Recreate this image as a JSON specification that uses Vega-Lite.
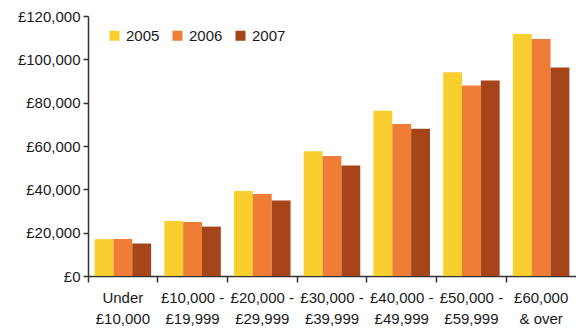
{
  "$schema": "https://vega.github.io/schema/vega-lite/v6.json",
  "width": 488,
  "height": 260,
  "autosize": {"type": "none"},
  "padding": {"left": 88, "top": 16, "right": 0, "bottom": 52},
  "background": "white",
  "config": {
    "view": {"stroke": null},
    "font": "Liberation Sans"
  },
  "data": {
    "values": [
      {"band": "Under £10,000", "year": "2005", "value": 17000},
      {"band": "Under £10,000", "year": "2006", "value": 17100},
      {"band": "Under £10,000", "year": "2007", "value": 15000},
      {"band": "£10,000 - £19,999", "year": "2005", "value": 25400},
      {"band": "£10,000 - £19,999", "year": "2006", "value": 24900},
      {"band": "£10,000 - £19,999", "year": "2007", "value": 22800},
      {"band": "£20,000 - £29,999", "year": "2005", "value": 39200},
      {"band": "£20,000 - £29,999", "year": "2006", "value": 37800},
      {"band": "£20,000 - £29,999", "year": "2007", "value": 34900},
      {"band": "£30,000 - £39,999", "year": "2005", "value": 57600},
      {"band": "£30,000 - £39,999", "year": "2006", "value": 55400},
      {"band": "£30,000 - £39,999", "year": "2007", "value": 51000},
      {"band": "£40,000 - £49,999", "year": "2005", "value": 76300},
      {"band": "£40,000 - £49,999", "year": "2006", "value": 70200},
      {"band": "£40,000 - £49,999", "year": "2007", "value": 68000},
      {"band": "£50,000 - £59,999", "year": "2005", "value": 94000},
      {"band": "£50,000 - £59,999", "year": "2006", "value": 87900},
      {"band": "£50,000 - £59,999", "year": "2007", "value": 90200},
      {"band": "£60,000 & over", "year": "2005", "value": 111700},
      {"band": "£60,000 & over", "year": "2006", "value": 109400},
      {"band": "£60,000 & over", "year": "2007", "value": 96200}
    ]
  },
  "mark": {"type": "bar"},
  "encoding": {
    "x": {
      "field": "band",
      "type": "nominal",
      "sort": null,
      "scale": {"paddingInner": 0, "paddingOuter": 0},
      "axis": {
        "title": null,
        "bandPosition": 0,
        "labelOffset": 0,
        "labelAngle": 0,
        "labelFontSize": 15,
        "labelColor": "#1a1a1a",
        "labelLineHeight": 21,
        "labelPadding": 8,
        "tickSize": 6,
        "tickColor": "#333333",
        "domainColor": "#333333",
        "domainWidth": 1.5,
        "tickWidth": 1.5,
        "labelExpr": "datum.label == 'Under £10,000' ? ['Under', '£10,000'] : (datum.label == '£60,000 & over' ? ['£60,000', '& over'] : [split(datum.label, ' - ')[0] + ' -', split(datum.label, ' - ')[1]])"
      }
    },
    "xOffset": {
      "field": "year",
      "type": "nominal",
      "scale": {"paddingInner": 0, "paddingOuter": 0.35}
    },
    "y": {
      "field": "value",
      "type": "quantitative",
      "scale": {"domain": [0, 120000]},
      "axis": {
        "title": null,
        "grid": false,
        "values": [0, 20000, 40000, 60000, 80000, 100000, 120000],
        "labelExpr": "'£' + format(datum.value, ',')",
        "labelFontSize": 15,
        "labelColor": "#1a1a1a",
        "labelPadding": 3,
        "tickSize": 5,
        "tickColor": "#333333",
        "tickWidth": 1.5,
        "domainColor": "#333333",
        "domainWidth": 1.5
      }
    },
    "color": {
      "field": "year",
      "type": "nominal",
      "scale": {"domain": ["2005", "2006", "2007"], "range": ["#F8CF2E", "#F07D36", "#A6451A"]},
      "legend": {
        "title": null,
        "orient": "none",
        "legendX": 19,
        "legendY": 12,
        "direction": "horizontal",
        "symbolType": "square",
        "symbolSize": 100,
        "labelFontSize": 15,
        "labelColor": "#1a1a1a",
        "columnPadding": 10,
        "labelOffset": 4
      }
    }
  }
}
